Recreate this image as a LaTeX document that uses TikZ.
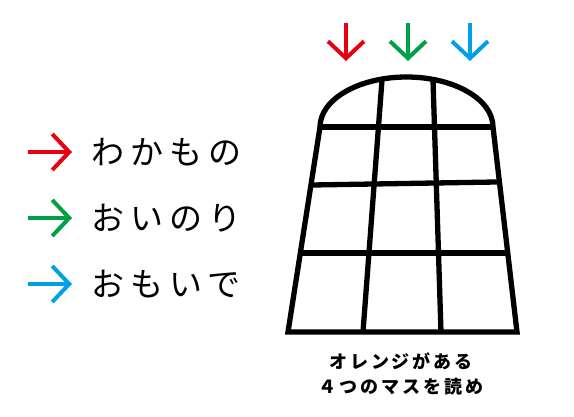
\documentclass[tikz,border=0pt]{standalone}
\usepackage{fontspec}
\newfontfamily\jpfont{Noto Sans CJK JP}[LetterSpace=19]
\newfontfamily\jpbold{Noto Sans CJK JP}[LetterSpace=16]
\usetikzlibrary{arrows.meta, calc}
\definecolor{arrred}{RGB}{230,0,18}
\definecolor{arrgreen}{RGB}{0,160,70}
\definecolor{arrblue}{RGB}{0,160,233}

\begin{document}
\begin{tikzpicture}[x=1pt, y=1pt]
\tikzstyle{pointer}=[line width=4pt, -{Straight Barb[length=17pt, width=36pt]}]
\tikzstyle{frame}=[line width=5.3pt, line join=miter]
\tikzstyle{word}=[anchor=west, inner sep=0pt, font=\jpfont\fontsize{33}{36}\selectfont]
\tikzstyle{hint}=[inner sep=0pt, font=\jpbold\bfseries\fontsize{18}{20}\selectfont]
\useasboundingbox (0,0) rectangle (574,-416);

% window corners
\coordinate (BL) at (288,-332);
\coordinate (BR) at (517,-332);
\coordinate (TL) at (320,-127);
\coordinate (TR) at (493,-127);

% outline with the round top
\draw[frame] (BL) -- (BR) -- (TR) arc[start angle=0, end angle=180, x radius=86.5, y radius=50] -- cycle;

% panes
\draw[frame] (TL) -- (TR);
\draw[frame] ($(BL)!0.717!(TL)$) -- ($(BR)!0.732!(TR)$);
\draw[frame] ($(BL)!0.385!(TL)$) -- ($(BR)!0.385!(TR)$);
\coordinate (C1) at (382,-80);
\coordinate (C2) at (433,-80);
\coordinate (D1) at (363,-332);
\coordinate (D2) at (441,-332);
\draw[frame] (C1) -- (D1);
\draw[frame] (C2) -- (D2);

% arrows on top
\coordinate (R0) at (346,-23);  \coordinate (R1) at (346,-61);
\coordinate (G0) at (408,-23);  \coordinate (G1) at (408,-61);
\coordinate (B0) at (470,-23);  \coordinate (B1) at (470,-61);
\draw[pointer, arrred] (R0) -- (R1);
\draw[pointer, arrgreen] (G0) -- (G1);
\draw[pointer, arrblue] (B0) -- (B1);

% legend
\node[word] (W1) at (91,-152) {わかもの};
\node[word] (W2) at (91,-218) {おいのり};
\node[word] (W3) at (91,-284) {おもいで};
\coordinate (L1) at (28,-152);  \coordinate (E1) at (72,-152);
\coordinate (L2) at (28,-218);  \coordinate (E2) at (72,-218);
\coordinate (L3) at (28,-284);  \coordinate (E3) at (72,-284);
\draw[pointer, arrred] (L1) -- (E1);
\draw[pointer, arrgreen] (L2) -- (E2);
\draw[pointer, arrblue] (L3) -- (E3);

% caption
\node[hint] (H1) at (401,-361) {オレンジがある};
\node[hint] (H2) at (401,-387) {４つのマスを読め};

\end{tikzpicture}
\end{document}
